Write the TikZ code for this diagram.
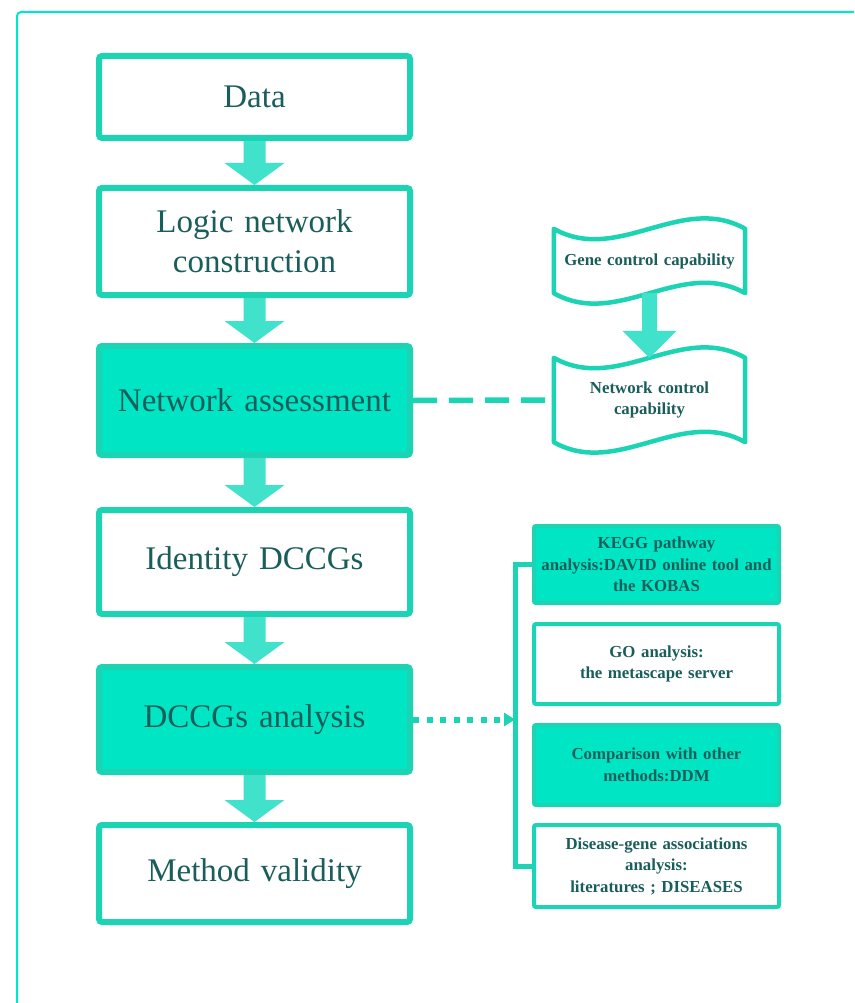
\documentclass[tikz,border=0pt]{standalone}
\usepackage{fontspec}
\setmainfont{Liberation Serif}
\usetikzlibrary{calc,arrows.meta}
\definecolor{tealborder}{HTML}{1CD3B3}
\definecolor{tealfill}{HTML}{00E6C4}
\definecolor{tealtext}{HTML}{1A5E5B}
\definecolor{arrowc}{HTML}{40E2CB}
\definecolor{framec}{HTML}{00E8CC}
\tikzset{
  mainbox/.style={draw=tealborder, line width=6pt, rounded corners=3pt,
    minimum width=311pt, text width=300pt, align=center,
    font=\fontsize{33}{40}\selectfont, text=tealtext, inner sep=0pt},
  mainfilled/.style={mainbox, fill=tealfill},
  mainwhite/.style={mainbox, fill=white},
  sidebox/.style={draw=tealborder, line width=4pt, rounded corners=2pt,
    minimum width=245pt, text width=238pt, align=center,
    font=\bfseries\fontsize{16.8}{21.5}\selectfont, text=tealtext, inner sep=0pt},
  sidefilled/.style={sidebox, fill=tealfill},
  sidewhite/.style={sidebox, fill=white},
  tapetext/.style={minimum width=191pt, text width=185pt, align=center,
    font=\bfseries\fontsize{16.8}{21.5}\selectfont, text=tealtext, inner sep=0pt},
  tapeline/.style={draw=tealborder, line width=4.5pt, line join=round},
  dashlink/.style={draw=tealborder, line width=5.5pt, dash pattern=on 24pt off 12pt},
  dotlink/.style={draw=tealborder, line width=6pt, dash pattern=on 6pt off 7.5pt,
    -{Triangle[length=11pt,width=13pt]}},
  bracketline/.style={draw=tealborder, line width=5pt},
  framel/.style={draw=framec, line width=2pt, rounded corners=4pt},
}
% block arrow: from, to, half stem, half head, head length
\newcommand{\blockarr}[5]{%
  \fill[arrowc] let \p1=(#1.south), \p2=(#2.north) in
    (\x1-#3,\y1) -- (\x1+#3,\y1) -- (\x1+#3,\y2+#5) -- (\x1+#4,\y2+#5)
    -- (\x1,\y2) -- (\x1-#4,\y2+#5) -- (\x1-#3,\y2+#5) -- cycle;}
\begin{document}
\begin{tikzpicture}[x=1pt,y=-1pt]
\useasboundingbox (0,0) rectangle (854,1003);
\fill[white] (0,0) rectangle (854,1003);
\draw[framel] (17,1003) -- (17,12) -- (854,12);

% main column
\node[mainwhite,  minimum height=82pt]  (data)  at (254.5,97)    {Data};
\node[mainwhite,  minimum height=107pt] (logic) at (254.5,241.5) {Logic network\\construction};
\node[mainfilled, minimum height=109pt] (net)   at (254.5,400.5) {Network assessment};
\node[mainwhite,  minimum height=104pt] (ident) at (254.5,562)   {Identity DCCGs};
\node[mainfilled, minimum height=105pt] (dccg)  at (254.5,719.5) {DCCGs analysis};
\node[mainwhite,  minimum height=97pt]  (meth)  at (254.5,873.5) {Method validity};

\blockarr{data}{logic}{11pt}{30pt}{22pt}
\blockarr{logic}{net}{11pt}{30pt}{22pt}
\blockarr{net}{ident}{11pt}{30pt}{22pt}
\blockarr{ident}{dccg}{11pt}{30pt}{22pt}
\blockarr{dccg}{meth}{11pt}{30pt}{22pt}

% tape shapes
\node[tapetext, minimum height=64pt] (gene) at (649.5,261) {Gene control capability};
\node[tapetext, minimum height=84pt] (ncc)  at (649.5,400) {Network control\\capability};
\foreach \n in {gene,ncc}{
  \draw[tapeline] (\n.north west)
    .. controls ($(\n.north west)+(64,36)$) and ($(\n.north east)+(-64,-36)$) .. (\n.north east)
    -- (\n.south east)
    .. controls ($(\n.south east)+(-64,-36)$) and ($(\n.south west)+(64,36)$) .. (\n.south west)
    -- cycle;
}
\blockarr{gene}{ncc}{7.5pt}{27pt}{27pt}
\draw[dashlink] (net.east) -- (ncc.west);

% analysis boxes
\node[sidefilled, minimum height=77pt] (kegg) at (656.5,564.5) {KEGG pathway\\analysis:DAVID online tool and\\the KOBAS};
\node[sidewhite,  minimum height=80pt] (go)   at (656.5,664)   {GO analysis:\\the metascape server};
\node[sidefilled, minimum height=80pt] (comp) at (656.5,765)   {Comparison with other\\methods:DDM};
\node[sidewhite,  minimum height=82pt] (dis)  at (656.5,866)   {Disease-gene associations\\analysis:\\literatures ; DISEASES};

\coordinate (brk) at ($(kegg.west)+(-17,0)$);
\draw[bracketline] (kegg.west) -- (brk) |- (dis.west);
\draw[dotlink] (dccg.east) -- (dccg.east -| brk);
\end{tikzpicture}
\end{document}
